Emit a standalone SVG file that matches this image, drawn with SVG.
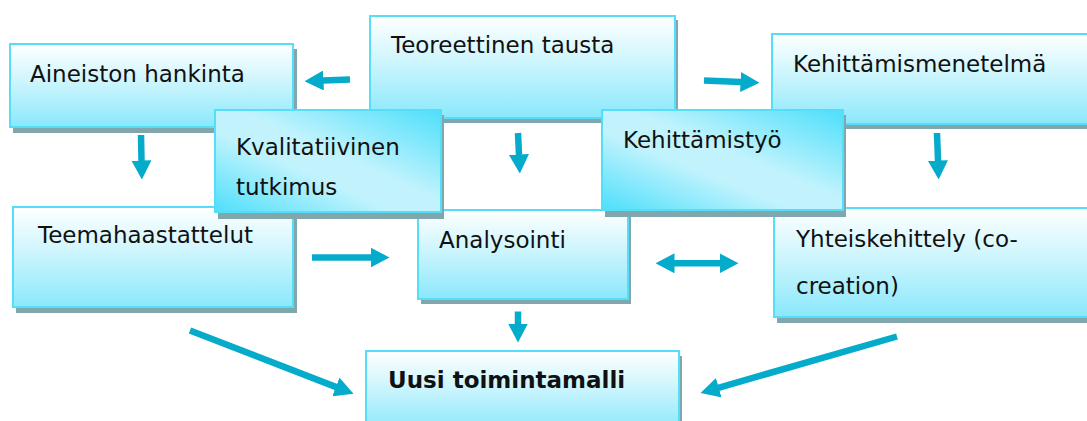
<svg xmlns="http://www.w3.org/2000/svg" width="1087" height="421" viewBox="0 0 1087 421">
<style>
.box{stroke:#55def7;stroke-width:2;fill:url(#gv)}
.box2{stroke:#55def7;stroke-width:2;fill:url(#gd)}
.sh{fill:#7fa7ad}
.t{font-family:"DejaVu Sans",Verdana,sans-serif;font-size:23px;fill:#111}
.b{font-weight:bold}
.a{stroke:#04abcb;stroke-width:6.5;fill:none;marker-end:url(#ah)}
</style>
<defs>
<linearGradient id="gv" x1="0" y1="0" x2="0" y2="1">
<stop offset="0" stop-color="#ffffff"/>
<stop offset="0.45" stop-color="#cdf5fd"/>
<stop offset="1" stop-color="#8ae8fc"/>
</linearGradient>
<linearGradient id="gd" x1="1" y1="0" x2="0" y2="1">
<stop offset="0" stop-color="#4ddffb"/>
<stop offset="0.45" stop-color="#c2f3fd"/>
<stop offset="0.6" stop-color="#c2f3fd"/>
<stop offset="1" stop-color="#4ddffb"/>
</linearGradient>
<marker id="ah" viewBox="0 0 19 20" markerWidth="19" markerHeight="20" markerUnits="userSpaceOnUse" refX="0.5" refY="10" orient="auto-start-reverse">
<path d="M0,0 L19,10 L0,20 Z" fill="#04abcb"/>
</marker>
</defs>
<rect width="1087" height="421" fill="#ffffff"/>

<g id="teoreettinen">
<rect class="sh" x="373" y="20" width="305" height="103"/>
<rect class="box" x="370" y="16" width="305" height="102"/>
<text class="t" x="391" y="53">Teoreettinen tausta</text>
</g>
<g id="aineiston">
<rect class="sh" x="13" y="49" width="284" height="84"/>
<rect class="box" x="10" y="44" width="283" height="83"/>
<text class="t" x="30" y="82">Aineiston hankinta</text>
</g>
<g id="kehittamismenetelma">
<rect class="sh" x="775" y="39" width="320" height="90"/>
<rect class="box" x="772" y="34" width="320" height="90"/>
<text class="t" x="793" y="72">Kehittämismenetelmä</text>
</g>
<g id="teemahaastattelut">
<rect class="sh" x="16" y="212" width="281" height="101"/>
<rect class="box" x="13" y="207" width="280" height="100"/>
<text class="t" x="38" y="243">Teemahaastattelut</text>
</g>
<g id="analysointi">
<rect class="sh" x="421" y="215" width="210" height="89"/>
<rect class="box" x="418" y="210" width="210" height="89"/>
<text class="t" x="439" y="248">Analysointi</text>
</g>
<g id="yhteiskehittely">
<rect class="sh" x="777" y="213" width="320" height="110"/>
<rect class="box" x="774" y="208" width="320" height="109"/>
<text class="t" x="796" y="247">Yhteiskehittely (co-</text>
<text class="t" x="796" y="294">creation)</text>
</g>
<g id="uusi">
<rect class="sh" x="369" y="356" width="313" height="80"/>
<rect class="box" x="366" y="351" width="313" height="80"/>
<text class="t b" x="388" y="388">Uusi toimintamalli</text>
</g>
<g id="kvalitatiivinen">
<rect class="sh" x="218" y="115" width="226" height="104"/>
<rect class="box2" x="215" y="110" width="226" height="102"/>
<text class="t" x="236" y="155">Kvalitatiivinen</text>
<text class="t" x="236" y="195">tutkimus</text>
</g>
<g id="kehittamistyo">
<rect class="sh" x="605" y="115" width="241" height="102"/>
<rect class="box2" x="602" y="110" width="241" height="100"/>
<text class="t" x="623" y="148">Kehittämistyö</text>
</g>

<g id="connectors">
<line class="a" x1="350" y1="79.5" x2="323" y2="80.5"/>
<line class="a" x1="704" y1="80.5" x2="741" y2="82"/>
<line class="a" x1="141" y1="135" x2="141.5" y2="161"/>
<line class="a" x1="518" y1="133" x2="519" y2="155"/>
<line class="a" x1="937" y1="133" x2="938" y2="161"/>
<line class="a" x1="312" y1="257.5" x2="371" y2="257.5"/>
<line class="a" x1="674" y1="263.3" x2="720" y2="263.3" style="marker-start:url(#ah)"/>
<line class="a" x1="518" y1="311.5" x2="518" y2="324"/>
<line class="a" x1="190" y1="330.5" x2="336.3" y2="387.1"/>
<line class="a" x1="897" y1="336.5" x2="718.3" y2="387.8"/>
</g>
</svg>
